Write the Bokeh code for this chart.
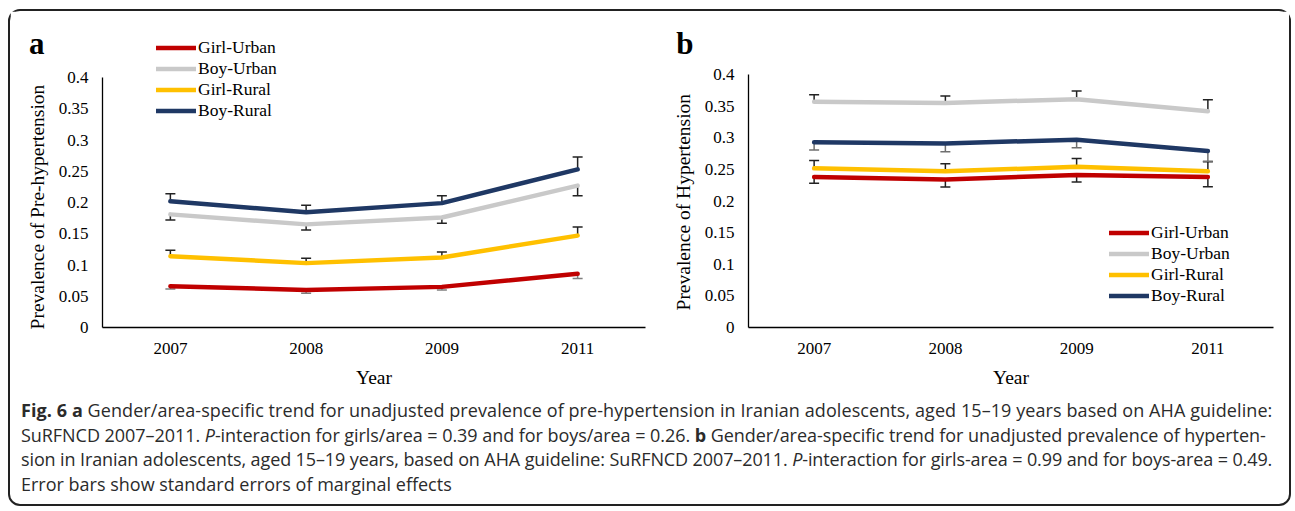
from bokeh.plotting import figure
from bokeh.models import Legend, LegendItem, Div, ColumnDataSource, LinearAxis, FixedTicker
from bokeh.layouts import row, column
from bokeh.embed import file_html
from bokeh.resources import INLINE

years = ["2007", "2008", "2009", "2011"]
series_names = ["Girl-Urban", "Boy-Urban", "Girl-Rural", "Boy-Rural"]
colors = ["#C00000", "#C9C9C9", "#FFC000", "#1F3864"]

# Panel a: prevalence of pre-hypertension
pre_girl_urban = [0.066, 0.060, 0.065, 0.086]
pre_boy_urban = [0.181, 0.165, 0.176, 0.227]
pre_girl_rural = [0.114, 0.103, 0.112, 0.147]
pre_boy_rural = [0.202, 0.1845, 0.199, 0.253]
pre_se_girl_urban = [0.0045, 0.005, 0.005, 0.0075]
pre_se_boy_urban = [0.009, 0.009, 0.009, 0.016]
pre_se_girl_rural = [0.0095, 0.008, 0.009, 0.014]
pre_se_boy_rural = [0.012, 0.011, 0.012, 0.020]
pre_dir = [-1, -1, 1, 1]

# Panel b: prevalence of hypertension
hyp_girl_urban = [0.238, 0.234, 0.241, 0.238]
hyp_boy_urban = [0.357, 0.355, 0.361, 0.342]
hyp_girl_rural = [0.2516, 0.247, 0.254, 0.247]
hyp_boy_rural = [0.293, 0.291, 0.297, 0.279]
hyp_se_girl_urban = [0.010, 0.012, 0.011, 0.0154]
hyp_se_boy_urban = [0.011, 0.011, 0.013, 0.018]
hyp_se_girl_rural = [0.0125, 0.012, 0.013, 0.015]
hyp_se_boy_rural = [0.0125, 0.013, 0.013, 0.016]
hyp_dir = [-1, 1, 1, -1]

y_ticks = [0, 0.05, 0.1, 0.15, 0.2, 0.25, 0.3, 0.35, 0.4]
y_tick_labels = ["0", "0.05", "0.1", "0.15", "0.2", "0.25", "0.3", "0.35", "0.4"]
y_max = 0.4

SERIF = "Liberation Serif"
NBSP = "\u00a0"


def make_panel(letter, ylabel, values, ses, dirs, err_colors, width, height,
               bl, br, bt, bb, axis_px, legend_loc,
               letter_px, letter_standoff, ylabel_pad):
    frame_h = height - bt - bb
    y_end = y_max * frame_h / axis_px
    p = figure(x_range=years, y_range=(0, y_end), width=width, height=height,
               output_backend="svg", toolbar_location=None,
               min_border_left=bl, min_border_right=br,
               min_border_top=bt, min_border_bottom=bb)
    p.outline_line_color = None
    p.xgrid.grid_line_color = None
    p.ygrid.grid_line_color = None
    p.x_range.range_padding = 0

    p.yaxis.ticker = y_ticks
    p.yaxis.bounds = (0, y_max)
    p.yaxis.major_label_overrides = {t: l for t, l in zip(y_ticks, y_tick_labels)}
    for ax in (p.xaxis[0], p.yaxis[0]):
        ax.axis_line_color = "#000000"
        ax.axis_line_width = 1.3
        ax.major_tick_line_color = None
        ax.minor_tick_line_color = None
        ax.major_tick_out = 0
        ax.major_tick_in = 0
        ax.major_label_text_font = SERIF
        ax.major_label_text_font_size = "17px"
        ax.major_label_text_color = "#000000"
        ax.axis_label_text_font = SERIF
        ax.axis_label_text_font_size = "19.5px"
        ax.axis_label_text_font_style = "normal"
        ax.axis_label_text_color = "#000000"
    p.yaxis.major_label_standoff = 14
    p.xaxis.major_label_standoff = 15
    p.yaxis.axis_label_standoff = 8
    p.xaxis.axis_label_standoff = 10
    # trailing no-break spaces centre the visible title on the 0-0.4 axis span
    p.yaxis.axis_label = ylabel + NBSP * ylabel_pad
    p.xaxis.axis_label = "Year"

    # panel letter as a horizontal label of an extra, invisible left axis
    letter_pos = round(y_max * (frame_h - letter_px) / axis_px, 4)
    lax = LinearAxis(ticker=FixedTicker(ticks=[letter_pos]),
                     major_label_overrides={letter_pos: NBSP + letter},
                     axis_line_color=None, major_tick_line_color=None,
                     minor_tick_line_color=None, major_tick_out=0, major_tick_in=0,
                     major_label_standoff=letter_standoff,
                     major_label_text_font=SERIF, major_label_text_font_size="31px",
                     major_label_text_font_style="bold",
                     major_label_text_color="#000000")
    p.add_layout(lax, "left")

    for name, col, vals, se, d, ec in zip(series_names, colors, values, ses, dirs, err_colors):
        ends = [v + d * s for v, s in zip(vals, se)]
        src = ColumnDataSource(dict(x=years, y=vals, e=ends))
        p.segment(x0="x", y0="y", x1="x", y1="e", source=src,
                  line_color=ec, line_width=1.5)
        p.scatter(x="x", y="e", source=src, marker="dash", size=10,
                  line_color=ec, line_width=1.5)
    items = []
    for name, col, vals in zip(series_names, colors, values):
        r = p.line(x=years, y=vals, line_color=col, line_width=4.5,
                   line_cap="round", line_join="round")
        items.append(LegendItem(label=name, renderers=[r]))

    legend = Legend(items=items, location=legend_loc, orientation="vertical",
                    border_line_color=None, background_fill_alpha=0,
                    padding=0, margin=0, spacing=0,
                    glyph_width=40, glyph_height=17, label_height=17,
                    label_standoff=2,
                    label_text_font=SERIF, label_text_font_size="17.5px",
                    label_text_line_height=1.0,
                    label_text_color="#000000")
    p.add_layout(legend, "center")
    return p


pa = make_panel("a", "Prevalence of Pre-hypertension",
                [pre_girl_urban, pre_boy_urban, pre_girl_rural, pre_boy_rural],
                [pre_se_girl_urban, pre_se_boy_urban, pre_se_girl_rural, pre_se_boy_rural],
                pre_dir, ["#7F7F7F", "#222222", "#222222", "#222222"],
                639, 387, 92, 4, 2, 71, 250, (54, 206), 30, -21, 15)
pb = make_panel("b", "Prevalence of Hypertension",
                [hyp_girl_urban, hyp_boy_urban, hyp_girl_rural, hyp_boy_rural],
                [hyp_se_girl_urban, hyp_se_boy_urban, hyp_se_girl_rural, hyp_se_boy_rural],
                hyp_dir, ["#222222", "#222222", "#222222", "#6F6F6F"],
                640, 387, 99, 16, 2, 71, 253, (361, 21), 30, -24, 13)

caption_lines = [
    ("0.08px", "<b>Fig. 6 a</b> Gender/area-specific trend for unadjusted prevalence of "
               "pre-hypertension in Iranian adolescents, aged 15–19 years based on AHA guideline:"),
    ("-0.05px", "SuRFNCD 2007–2011. <i>P</i>-interaction for girls/area = 0.39 and for "
                "boys/area = 0.26. <b>b</b> Gender/area-specific trend for unadjusted "
                "prevalence of hyperten-"),
    ("-0.11px", "sion in Iranian adolescents, aged 15–19 years, based on AHA guideline: "
                "SuRFNCD 2007–2011. <i>P</i>-interaction for girls-area = 0.99 and for "
                "boys-area = 0.49."),
    ("0px", "Error bars show standard errors of marginal effects"),
]
caption_html = (
    "<div style=\"font-family:'Open Sans',sans-serif;"
    "font-size:18px;line-height:24.5px;color:#2b2b2b;white-space:nowrap;\">"
    + "".join(f"<div style='letter-spacing:{ls}'>{t}</div>" for ls, t in caption_lines)
    + "</div>"
)
caption = Div(text=caption_html, width=1279, height=106, margin=0,
              styles={"padding-left": "11px"})

layout = column(row(pa, pb), caption, margin=(9, 0, 0, 8),
                styles={"border": "2px solid #222222", "border-radius": "12px"})

open("out.html", "w").write(file_html(layout, INLINE))
